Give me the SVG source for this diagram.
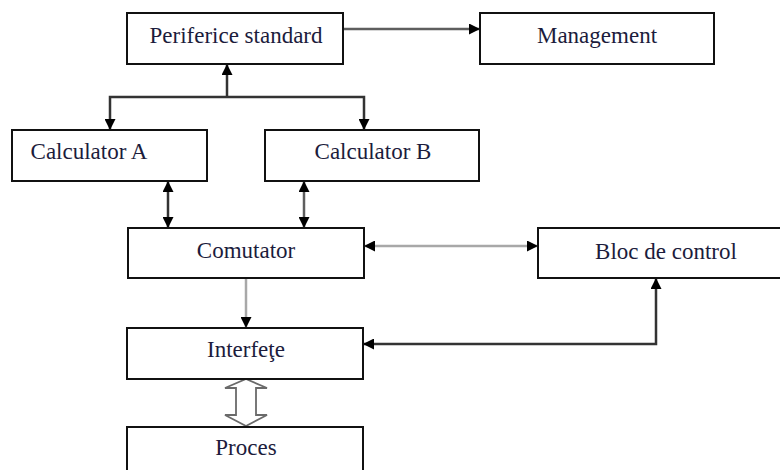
<svg xmlns="http://www.w3.org/2000/svg" width="780" height="470" viewBox="0 0 780 470">
  <style>
    .box { fill: #ffffff; stroke: #111111; stroke-width: 2; }
    .lbl { font-family: "Liberation Serif", "Times New Roman", serif; font-size: 23px; fill: #1c1c3c; text-anchor: middle; }
    .ln { fill: none; stroke-width: 2.5; }
    .dark { stroke: #333333; }
    .mid { stroke: #5e5e5e; }
    .light { stroke: #a8a8a8; }
  </style>
  <defs>
    <marker id="arr" viewBox="0 0 10 10" refX="10" refY="5" markerWidth="11" markerHeight="11" markerUnits="userSpaceOnUse" orient="auto-start-reverse">
      <path d="M0,0 L10,5 L0,10 Z" fill="#000000"/>
    </marker>
  </defs>
  <rect width="780" height="470" fill="#ffffff"/>

  <!-- connectors -->
  <g id="connectors">
    <!-- Periferice standard -> Management -->
    <line class="ln mid" x1="343" y1="29" x2="480" y2="29" marker-end="url(#arr)"/>
    <!-- shared bus between the two computers and the standard peripherals -->
    <line class="ln dark" x1="227" y1="97" x2="227" y2="64" marker-end="url(#arr)"/>
    <polyline class="ln dark" points="110,130 110,97 364,97 364,130" marker-start="url(#arr)" marker-end="url(#arr)"/>
    <!-- computers <-> switch -->
    <line class="ln dark" x1="168" y1="181" x2="168" y2="228" marker-start="url(#arr)" marker-end="url(#arr)"/>
    <line class="ln mid" x1="304" y1="181" x2="304" y2="228" marker-start="url(#arr)" marker-end="url(#arr)"/>
    <!-- switch <-> control block -->
    <line class="ln light" x1="364" y1="246" x2="538" y2="246" marker-start="url(#arr)" marker-end="url(#arr)"/>
    <!-- switch -> interfaces -->
    <line class="ln light" x1="246" y1="278" x2="246" y2="328" marker-end="url(#arr)"/>
    <!-- control block <-> interfaces -->
    <polyline class="ln dark" points="656,278 656,344 363,344" marker-start="url(#arr)" marker-end="url(#arr)"/>
    <!-- hollow two-way arrow: interfaces <-> process -->
    <polygon points="246,379 267,388 256,388 256,415 267,415 246,426 225,415 236,415 236,388 225,388" fill="#ffffff" stroke="#6a6a6a" stroke-width="1.8" stroke-linejoin="miter"/>
  </g>

  <g id="periferice">
    <rect class="box" x="127" y="13" width="216" height="51"/>
    <text class="lbl" x="236" y="43">Periferice standard</text>
  </g>
  <g id="management">
    <rect class="box" x="480" y="13" width="234" height="51"/>
    <text class="lbl" x="597" y="43">Management</text>
  </g>
  <g id="calculatorA">
    <rect class="box" x="12" y="130" width="195" height="51"/>
    <text class="lbl" x="89" y="159">Calculator A</text>
  </g>
  <g id="calculatorB">
    <rect class="box" x="265" y="130" width="214" height="51"/>
    <text class="lbl" x="373" y="159">Calculator B</text>
  </g>
  <g id="comutator">
    <rect class="box" x="128" y="228" width="236" height="50"/>
    <text class="lbl" x="246" y="258">Comutator</text>
  </g>
  <g id="bloc-control">
    <rect class="box" x="538" y="228" width="260" height="50"/>
    <text class="lbl" x="666" y="259">Bloc de control</text>
  </g>
  <g id="interfete">
    <rect class="box" x="127" y="328" width="236" height="51"/>
    <text class="lbl" x="246" y="357">Interfeţe</text>
  </g>
  <g id="proces">
    <rect class="box" x="127" y="427" width="236" height="60"/>
    <text class="lbl" x="246" y="455">Proces</text>
  </g>
</svg>
